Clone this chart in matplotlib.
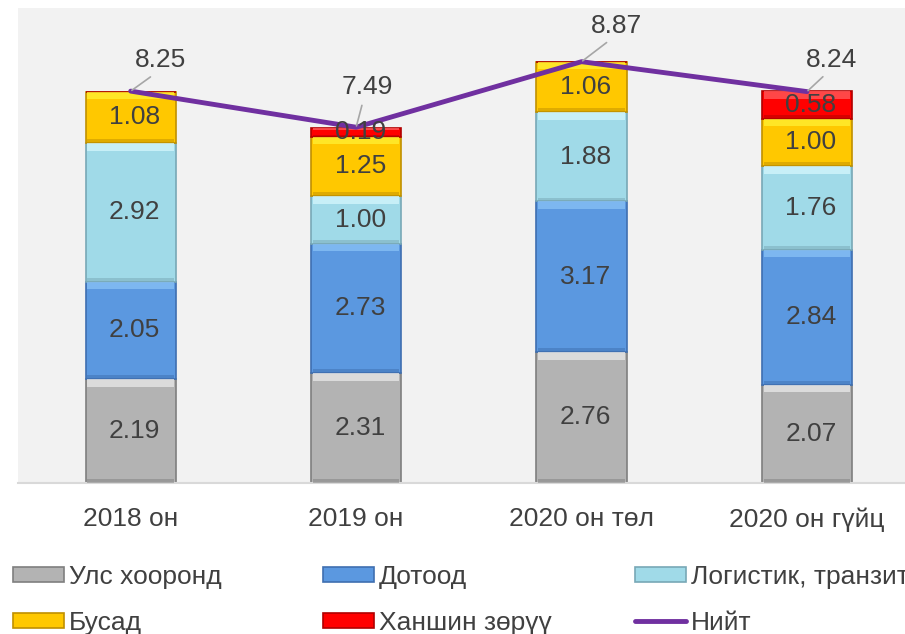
import matplotlib
matplotlib.use("Agg")
import matplotlib.pyplot as plt
from matplotlib.lines import Line2D

plt.rcParams["font.family"] = ["Liberation Sans", "DejaVu Sans"]

categories = ["2018 он", "2019 он", "2020 он төл", "2020 он гүйц"]
series_names = ["Улс хооронд", "Дотоод", "Логистик, транзит", "Бусад", "Ханшин зөрүү"]
uls_hoorond = [2.19, 2.31, 2.76, 2.07]
dotood = [2.05, 2.73, 3.17, 2.84]
logistic = [2.92, 1.00, 1.88, 1.76]
busad = [1.08, 1.25, 1.06, 1.00]
hanshin = [0.0, 0.19, 0.0, 0.58]
niit = [8.25, 7.49, 8.87, 8.24]
total_name = "Нийт"

series = [uls_hoorond, dotood, logistic, busad, hanshin]
face = ["#b3b3b3", "#5b98e0", "#a0dae8", "#ffc800", "#ff0000"]
light = ["#e6e6e6", "#86bff5", "#d2f5fb", "#ffee30", "#ff5a5a"]
dark = ["#7f7f7f", "#3f6fb0", "#78a8b6", "#c09000", "#b00000"]
txt = "#404040"

fig = plt.figure(figsize=(9.05, 6.34), dpi=100)
ax = fig.add_axes([18 / 905, 151 / 634, 901.7 / 905, 475 / 634])
ax.set_facecolor("#f2f2f2")
ax.set_xlim(-0.5, 3.5)
ax.set_ylim(0, 10)

x = list(range(len(categories)))
width = 0.4
bottoms = [0.0] * len(categories)
handles = []
for k, vals in enumerate(series):
    bars = ax.bar(x, vals, width, bottom=bottoms, color=face[k],
                  edgecolor=dark[k], linewidth=1.2, zorder=2)
    handles.append(bars)
    # bevel-like highlight on top and shade at bottom
    hl = [min(0.16, v * 0.3) for v in vals]
    tops = [b + v - h for b, v, h in zip(bottoms, vals, hl)]
    ax.bar(x, hl, width * 0.96, bottom=tops, color=light[k], linewidth=0, zorder=3, alpha=0.8)
    sh = [min(0.08, v * 0.2) for v in vals]
    ax.bar(x, sh, width * 0.96, bottom=bottoms, color=dark[k], linewidth=0, zorder=3, alpha=0.5)
    for i, v in enumerate(vals):
        if v > 0:
            ax.annotate(f"{v:.2f}", xy=(i, bottoms[i] + v / 2), xytext=(4, 0),
                        textcoords="offset pixels", ha="center", va="center",
                        fontsize=19, color=txt, zorder=6)
    bottoms = [b + v for b, v in zip(bottoms, vals)]

ax.plot(x, niit, color="#7030a0", linewidth=3.5, solid_capstyle="round", zorder=5)

offsets = [(30, 24), (11, 33), (35, 29), (25, 25)]
for i, v in enumerate(niit):
    ax.annotate(f"{v:.2f}", xy=(i, v), xytext=offsets[i], textcoords="offset pixels",
                ha="center", va="baseline", fontsize=19, color=txt, zorder=7,
                arrowprops=dict(arrowstyle="-", color="#a6a6a6", lw=1.2,
                                shrinkA=2.5, shrinkB=1, relpos=(0.43, 0)))

for s in ["top", "left", "right"]:
    ax.spines[s].set_visible(False)
ax.spines["bottom"].set_color("#d9d9d9")
ax.spines["bottom"].set_linewidth(1.5)
ax.set_yticks([])
ax.set_xticks(x)
ax.set_xticklabels(categories, fontsize=19, color=txt)
ax.tick_params(axis="x", length=0, pad=17.5)

line_handle = Line2D([], [], color="#7030a0", linewidth=3.5, solid_capstyle="round")
groups = [
    ([handles[0], handles[3]], [series_names[0], series_names[3]], 12.7),
    ([handles[1], handles[4]], [series_names[1], series_names[4]], 323),
    ([handles[2], line_handle], [series_names[2], total_name], 635),
]
for hs, labs, px in groups:
    fig.legend(hs, labs, loc="upper left", bbox_to_anchor=(px / 905, 1 - 565 / 634),
               frameon=False, fontsize=19, labelcolor=txt, borderpad=0,
               borderaxespad=0, handlelength=1.93, handleheight=0.5,
               handletextpad=0.2, labelspacing=0.82)

fig.savefig("out.png", dpi=100)
